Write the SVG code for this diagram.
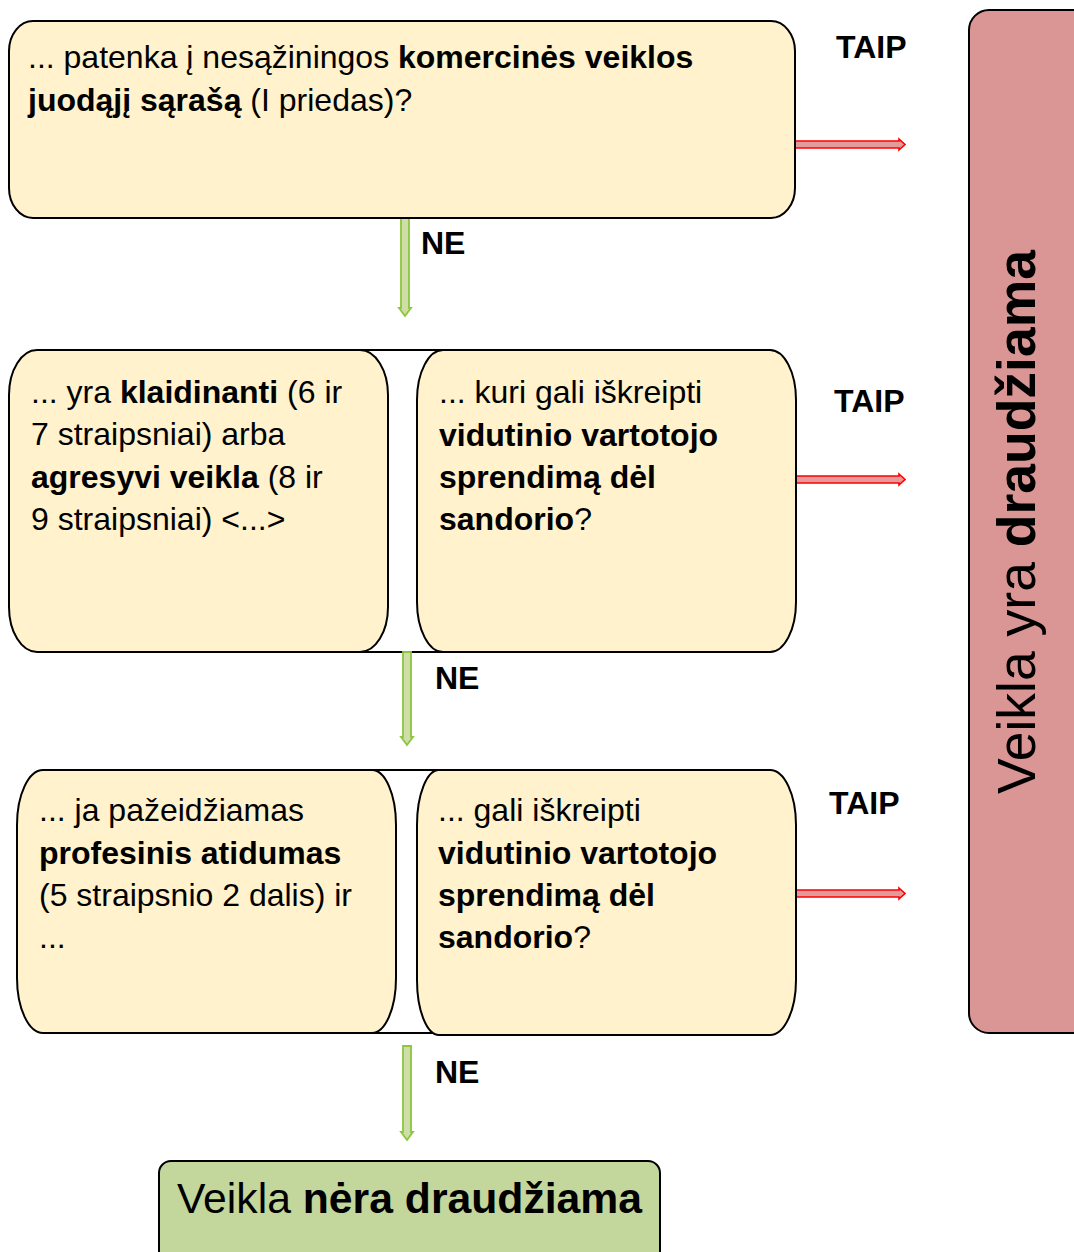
<svg xmlns="http://www.w3.org/2000/svg" width="1074" height="1252" viewBox="0 0 1074 1252">
<style>
text { font-family: "Liberation Sans", Arial, sans-serif; fill: #000; }
.t { font-size: 32px; }
.b { font-weight: bold; }
.lbl { font-size: 32px; font-weight: bold; }
.box { fill: #FFF2CC; stroke: #000; stroke-width: 2; }
.bridge { stroke: #000; stroke-width: 2; }
.ra { fill: #E39A9A; stroke: #FF0000; stroke-width: 1.6; }
.ga { fill: #CFDDA8; stroke: #8CC63F; stroke-width: 1.8; }
</style>
<rect x="0" y="0" width="1074" height="1252" fill="#fff"/>

<g id="connectors">
  <line class="bridge" x1="358" y1="350" x2="448" y2="350"/>
  <line class="bridge" x1="358" y1="652" x2="448" y2="652"/>
  <line class="bridge" x1="366" y1="770" x2="448" y2="770"/>
  <line class="bridge" x1="366" y1="1033" x2="448" y2="1033"/>
  <polygon class="ga" points="401,218 409,218 409,308 411,308 405,316 399,308 401,308"/>
  <polygon class="ga" points="403,652 411,652 411,737 413,737 407,745 401,737 403,737"/>
  <polygon class="ga" points="403,1046 411,1046 411,1132 413,1132 407,1140 401,1132 403,1132"/>
  <polygon class="ra" points="795,141 899,141 899,139 905,144.5 899,150 899,148 795,148"/>
  <polygon class="ra" points="795,476 899,476 899,474 905,479.5 899,485 899,483 795,483"/>
  <polygon class="ra" points="795,890 899,890 899,888 905,893.5 899,899 899,897 795,897"/>
  <text class="lbl" x="836" y="58">TAIP</text>
  <text class="lbl" x="834" y="412">TAIP</text>
  <text class="lbl" x="829" y="814">TAIP</text>
  <text class="lbl" x="421" y="254">NE</text>
  <text class="lbl" x="435" y="689">NE</text>
  <text class="lbl" x="435" y="1083">NE</text>
</g>

<g id="node-q1">
  <path class="box" d="M33,21 H771 A24,30 0 0 1 795,51 V188 A24,30 0 0 1 771,218 H33 A24,30 0 0 1 9,188 V51 A24,30 0 0 1 33,21 Z"/>
  <text class="t" x="28" y="68">... patenka į nesąžiningos <tspan class="b">komercinės veiklos</tspan></text>
  <text class="t" x="28" y="111"><tspan class="b">juodąjį sąrašą</tspan> (I priedas)?</text>
</g>

<g id="node-q2a">
  <path class="box" d="M37,350 H360 A28,45 0 0 1 388,395 V607 A28,45 0 0 1 360,652 H37 A28,45 0 0 1 9,607 V395 A28,45 0 0 1 37,350 Z"/>
  <text class="t" x="31" y="403">... yra <tspan class="b">klaidinanti</tspan> (6 ir</text>
  <text class="t" x="31" y="445">7 straipsniai) arba</text>
  <text class="t" x="31" y="488"><tspan class="b">agresyvi veikla</tspan> (8 ir</text>
  <text class="t" x="31" y="530">9 straipsniai) &lt;...&gt;</text>
</g>

<g id="node-q2b">
  <path class="box" d="M443,350 H770 A26,50 0 0 1 796,400 V602 A26,50 0 0 1 770,652 H443 A26,50 0 0 1 417,602 V400 A26,50 0 0 1 443,350 Z"/>
  <text class="t" x="439" y="403">... kuri gali iškreipti</text>
  <text class="t b" x="439" y="446">vidutinio vartotojo</text>
  <text class="t b" x="439" y="488">sprendimą dėl</text>
  <text class="t" x="439" y="530"><tspan class="b">sandorio</tspan>?</text>
</g>

<g id="node-q3a">
  <path class="box" d="M43,770 H372 A24,55 0 0 1 396,825 V978 A24,55 0 0 1 372,1033 H43 A26,55 0 0 1 17,978 V825 A26,55 0 0 1 43,770 Z"/>
  <text class="t" x="39" y="821">... ja pažeidžiamas</text>
  <text class="t b" x="39" y="864">profesinis atidumas</text>
  <text class="t" x="39" y="906">(5 straipsnio 2 dalis) ir</text>
  <text class="t" x="39" y="948">...</text>
</g>

<g id="node-q3b">
  <path class="box" d="M439,770 H770 A26,55 0 0 1 796,825 V980 A26,55 0 0 1 770,1035 H439 A22,55 0 0 1 417,980 V825 A22,55 0 0 1 439,770 Z"/>
  <text class="t" x="438" y="821">... gali iškreipti</text>
  <text class="t b" x="438" y="864">vidutinio vartotojo</text>
  <text class="t b" x="438" y="906">sprendimą dėl</text>
  <text class="t" x="438" y="948"><tspan class="b">sandorio</tspan>?</text>
</g>

<g id="node-yes">
  <rect x="969" y="10" width="130" height="1023" rx="20" ry="20" fill="#D99694" stroke="#000" stroke-width="2"/>
  <text transform="translate(1035,522) rotate(-90)" text-anchor="middle" font-size="53.5">Veikla yra <tspan font-weight="bold">draudžiama</tspan></text>
</g>

<g id="node-no">
  <rect x="159" y="1161" width="501" height="110" rx="12" ry="12" fill="#C3D69B" stroke="#000" stroke-width="2"/>
  <text x="177" y="1213" font-size="42.7">Veikla <tspan font-weight="bold">nėra draudžiama</tspan></text>
</g>
</svg>
